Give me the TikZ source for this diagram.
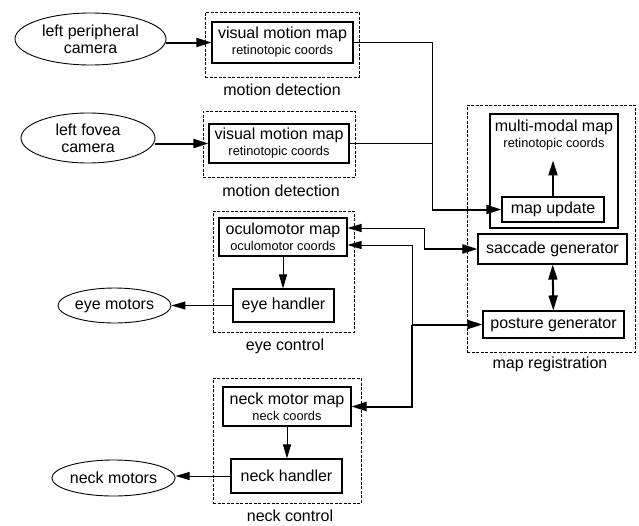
\documentclass[tikz,border=0pt]{standalone}
\usepackage{fontspec}
\setmainfont{Liberation Sans}
\usepackage{tikz}
\usetikzlibrary{shapes.geometric, arrows.meta, positioning}
\newcommand{\coordsize}{\fontsize{12.8}{14}\selectfont}

\begin{document}
\begin{tikzpicture}[
    x=1pt, y=-1pt,
    mapbox/.style={rectangle, draw, line width=1.1pt, align=center, inner sep=0pt, font=\fontsize{16}{17}\selectfont},
    groupbox/.style={rectangle, draw, dash pattern=on 3pt off 1.5pt, line width=0.7pt, inner sep=0pt},
    sensor/.style={ellipse, draw, line width=0.9pt, align=center, inner sep=0pt, font=\fontsize{16}{17}\selectfont},
    grouplabel/.style={font=\fontsize{16}{17}\selectfont},
    wire/.style={line width=1pt},
    thinarrow/.style={-{Triangle[length=14pt, width=8pt]}, line width=1pt},
    bigarrow/.style={-{Triangle[length=15pt, width=9pt]}, line width=2pt},
    bigboth/.style={{Triangle[length=15pt, width=9pt]}-{Triangle[length=15pt, width=9pt]}, line width=2pt},
  ]
    \useasboundingbox (0,0) rectangle (639,525);

    \node[groupbox, minimum width=154pt, minimum height=65pt] (mdA) at (282,44.5) {};
    \node[mapbox, minimum width=141pt, minimum height=41pt] (vmmA) at (282.5,42.5) {visual motion map\\[-1pt]{\coordsize retinotopic coords}};
    \node[grouplabel] (mdAlab) at (282,90) {motion detection};
    \node[sensor, minimum width=151pt, minimum height=52pt] (perc) at (90.5,39) {left peripheral\\camera};

    \node[groupbox, minimum width=152pt, minimum height=66pt] (mdB) at (279,144) {};
    \node[mapbox, minimum width=140pt, minimum height=39pt] (vmmB) at (279,143.5) {visual motion map\\[-1pt]{\coordsize retinotopic coords}};
    \node[grouplabel] (mdBlab) at (281,191) {motion detection};
    \node[sensor, minimum width=134pt, minimum height=50pt] (fovc) at (88,138) {left fovea\\camera};

    \node[groupbox, minimum width=168pt, minimum height=247pt] (mreg) at (551,228.5) {};
    \node[grouplabel] (mreglab) at (550,364) {map registration};
    \node[mapbox, minimum width=128pt, minimum height=114pt] (mmmap) at (554,171) {};
    \node[align=center, inner sep=0pt, font=\fontsize{16}{17}\selectfont] (mmtitle) at (554,135.5) {multi-modal map\\[-1pt]{\coordsize retinotopic coords}};
    \node[mapbox, minimum width=102pt, minimum height=25pt] (mapupd) at (553,209.5) {map update};
    \node[mapbox, minimum width=149pt, minimum height=30pt] (sacgen) at (552.5,249) {saccade generator};
    \node[mapbox, minimum width=141pt, minimum height=27pt] (postgen) at (553.5,324.5) {posture generator};

    \node[groupbox, minimum width=141pt, minimum height=121pt] (eyectl) at (283.5,271.5) {};
    \node[grouplabel] (eyelab) at (285,346) {eye control};
    \node[mapbox, minimum width=128pt, minimum height=38pt] (ocmap) at (283,237) {oculomotor map\\[-1pt]{\coordsize oculomotor coords}};
    \node[mapbox, minimum width=101pt, minimum height=33pt] (eyeh) at (283.5,305.5) {eye handler};
    \node[sensor, minimum width=113pt, minimum height=35pt] (eyem) at (114.5,305.5) {eye motors};

    \node[groupbox, minimum width=148pt, minimum height=125pt] (neckctl) at (287,440.5) {};
    \node[grouplabel] (necklab) at (290,515.5) {neck control};
    \node[mapbox, minimum width=128pt, minimum height=39pt] (neckmap) at (287,406.5) {neck motor map\\[-1pt]{\coordsize neck coords}};
    \node[mapbox, minimum width=111pt, minimum height=34pt] (neckh) at (286.5,476) {neck handler};
    \node[sensor, minimum width=119pt, minimum height=36pt] (neckm) at (113.5,478) {neck motors};

    \coordinate (upj) at (432,209.5);
    \coordinate (sacj) at (424,249);
    \coordinate (posj) at (412,324.5);

    \draw[bigarrow] (perc.east |- vmmA.west) -- (vmmA.west);
    \draw[bigarrow] (fovc.east |- vmmB.west) -- (vmmB.west);
    \draw[wire] (vmmA.east) -| (upj);
    \draw[wire] (vmmB.east) -- (vmmB.east -| upj);
    \draw[bigarrow] (upj) -- (mapupd.west);
    \draw[bigarrow] (mapupd.north) -- ++(0,-36);
    \draw[thinarrow] (sacj) |- ([yshift=9pt]ocmap.east);
    \draw[bigarrow] (sacj) -- (sacgen.west);
    \draw[thinarrow] (posj) |- ([yshift=-8pt]ocmap.east);
    \draw[bigarrow] (posj) |- (neckmap.east);
    \draw[bigarrow] (posj) -- (postgen.west);
    \draw[bigboth] (sacgen) -- (postgen);
    \draw[thinarrow] (ocmap.south) -- (ocmap.south |- eyeh.north);
    \draw[thinarrow] (eyeh.west) -- (eyem.east);
    \draw[thinarrow] (neckmap.south) -- (neckmap.south |- neckh.north);
    \draw[thinarrow] (neckh.west) -- (neckh.west -| neckm.east);
  \end{tikzpicture}
\end{document}
